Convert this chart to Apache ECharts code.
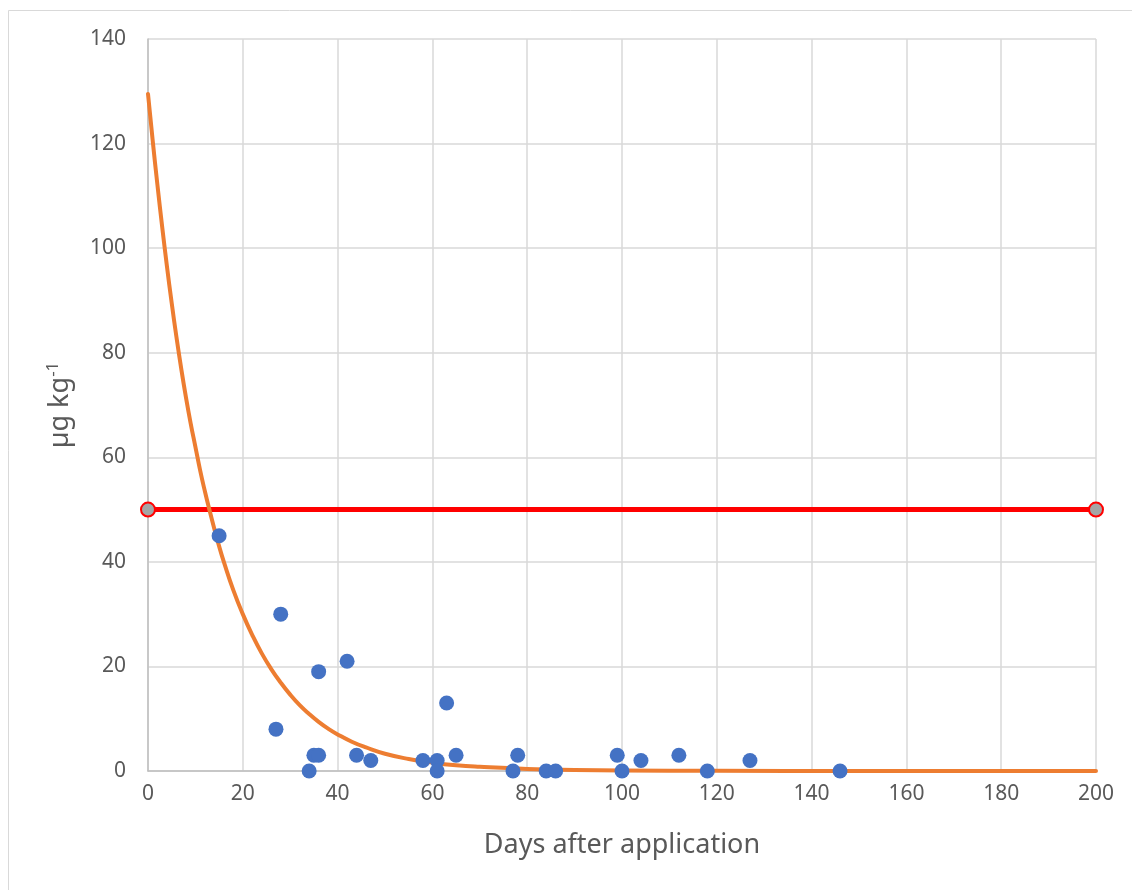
<!DOCTYPE html>
<html>
<head>
<meta charset="utf-8">
<script src="https://cdn.jsdelivr.net/npm/echarts@6/dist/echarts.min.js"></script>
<style>
  html, body { margin: 0; padding: 0; background: #fff; }
  #main { width: 1132px; height: 890px; }
</style>
</head>
<body>
<div id="main"></div>
<script>
// measured samples (days, µg/kg)
const sampleDays = [15, 27, 28, 34, 35, 36, 36, 42, 44, 47, 58, 61, 61, 63, 65, 77, 78, 84, 86, 99, 100, 104, 112, 118, 127, 146];
const sampleConc = [45, 8, 30, 0, 3, 3, 19, 21, 3, 2, 2, 2, 0, 13, 3, 0, 3, 0, 0, 3, 0, 2, 3, 0, 2, 0];

// decay curve
const curveDays = [0, 1, 2, 3, 4, 5, 6, 7, 8, 9, 10, 11, 12, 13, 14, 15, 16, 18, 20, 22, 24, 26, 28, 30, 32, 34, 36, 38, 40, 43, 46, 50, 55, 60, 65, 70, 80, 90, 100, 120, 150, 200];
const curveConc = [129.5, 120.5, 112, 104, 96.5, 89.5, 83, 77, 71.5, 66.5, 62, 57.5, 53.5, 49.8, 46.3, 43, 40, 34.6, 30, 26, 22.5, 19.5, 16.9, 14.6, 12.6, 10.9, 9.4, 8.1, 7, 5.6, 4.5, 3.3, 2.3, 1.6, 1.1, 0.8, 0.4, 0.2, 0.1, 0.03, 0, 0];

// limit line
const limitDays = [0, 200];
const limitConc = [50, 50];

const textColor = '#595959';
const font = 'Noto Sans';

const myChart = echarts.init(document.getElementById('main'));

const option = {
  animation: false,
  backgroundColor: '#fff',
  graphic: [{
    type: 'rect',
    shape: { x: 8.5, y: 10.5, width: 1140, height: 900 },
    style: { fill: 'none', stroke: '#d9d9d9', lineWidth: 1 },
    silent: true
  }],
  grid: { left: 148, right: 36, top: 39, bottom: 119, containLabel: false },
  xAxis: {
    type: 'value',
    min: 0, max: 200, interval: 20,
    name: 'Days after application',
    nameLocation: 'middle',
    nameGap: 61,
    nameTextStyle: { color: textColor, fontSize: 27, fontFamily: font },
    axisLine: { show: true, lineStyle: { color: '#bfbfbf', width: 1.5 } },
    axisTick: { show: false },
    axisLabel: { color: textColor, fontSize: 21, fontFamily: font, margin: 13 },
    splitLine: { show: true, lineStyle: { color: '#d9d9d9', width: 1.5 } }
  },
  yAxis: {
    type: 'value',
    min: 0, max: 140, interval: 20,
    name: 'µg kg{sup|-1}',
    nameLocation: 'middle',
    nameGap: 72,
    nameTextStyle: {
      color: textColor, fontSize: 27, fontFamily: font,
      rich: { sup: { fontSize: 17, color: textColor, fontFamily: font, verticalAlign: 'top', padding: [0, 0, 14, 0] } }
    },
    axisLine: { show: true, lineStyle: { color: '#bfbfbf', width: 1.5 } },
    axisTick: { show: false },
    axisLabel: { color: textColor, fontSize: 21, fontFamily: font, margin: 22 },
    splitLine: { show: true, lineStyle: { color: '#d9d9d9', width: 1.5 } }
  },
  series: [
    {
      name: 'limit',
      type: 'line',
      data: limitDays.map((d, i) => [d, limitConc[i]]),
      symbol: 'circle',
      symbolSize: 14,
      showAllSymbol: true,
      lineStyle: { color: '#ff0000', width: 5 },
      itemStyle: { color: '#a5a5a5', borderColor: '#ff0000', borderWidth: 2 },
      z: 3
    },
    {
      name: 'fit',
      type: 'line',
      data: curveDays.map((d, i) => [d, curveConc[i]]),
      smooth: 0.5,
      symbol: 'none',
      lineStyle: { color: '#ed7d31', width: 4, cap: 'round', join: 'round' },
      z: 4
    },
    {
      name: 'samples',
      type: 'scatter',
      data: sampleDays.map((d, i) => [d, sampleConc[i]]),
      symbolSize: 15,
      itemStyle: { color: '#4472c4', opacity: 1 },
      z: 5
    }
  ]
};

myChart.setOption(option);
</script>
</body>
</html>
